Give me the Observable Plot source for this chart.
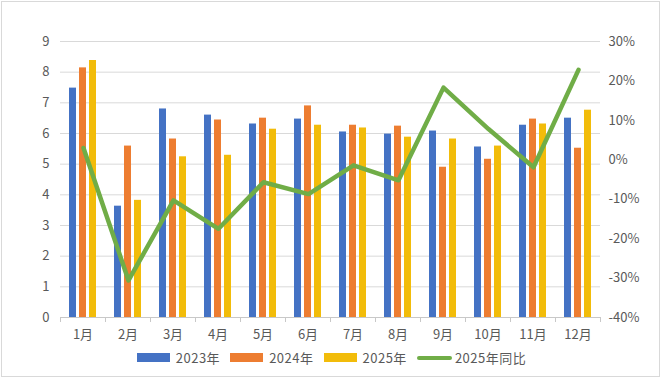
<!DOCTYPE html>
<html>
<head>
<meta charset="utf-8">
<script src="https://cdn.jsdelivr.net/npm/d3@7"></script>
<script src="https://cdn.jsdelivr.net/npm/@observablehq/plot@0.6"></script>
<style>
  html, body { margin: 0; padding: 0; background: #fff; }
  #wrap { position: relative; width: 663px; height: 380px; overflow: hidden; font-family: "Noto Sans CJK SC", "Noto Sans", sans-serif; }
  #border { position: absolute; left: 1px; top: 1px; width: 657px; height: 374px; border: 1px solid #d9d9d9; }
  .layer { position: absolute; left: 0; top: 0; }
  #legend { position: absolute; left: 0; top: 348px; width: 663px; display: flex; justify-content: center; align-items: center; font-size: 13px; color: #595959; letter-spacing: 0.5px; }
  .item { display: flex; align-items: center; margin: 0 5px; }
  .sw { width: 33px; height: 9px; margin-right: 6px; }
  .ln { width: 35px; height: 4px; border-radius: 2px; margin-right: 3px; }
</style>
</head>
<body>
<div id="wrap">
  <div id="border"></div>
  <div id="barsLayer" class="layer"></div>
  <div id="tickLayer" class="layer"></div>
  <div id="lineLayer" class="layer"></div>
  <div id="legend"></div>
</div>
<script>
const months = ["1月","2月","3月","4月","5月","6月","7月","8月","9月","10月","11月","12月"];
const seriesNames = ["2023年","2024年","2025年"];
const v2023 = [7.48,3.63,6.80,6.60,6.31,6.47,6.05,5.98,6.08,5.56,6.27,6.50];
const v2024 = [8.14,5.59,5.82,6.44,6.50,6.90,6.27,6.24,4.90,5.16,6.47,5.52];
const v2025 = [8.38,3.82,5.24,5.29,6.14,6.27,6.18,5.88,5.82,5.59,6.31,6.76];
const yoyName = "2025年同比";
const yoy = [0.030,-0.306,-0.103,-0.175,-0.057,-0.087,-0.014,-0.052,0.183,0.078,-0.019,0.228];
const leftTicks = [0,1,2,3,4,5,6,7,8,9];
const rightTicks = [-0.4,-0.3,-0.2,-0.1,0,0.1,0.2,0.3];
const colors = ["#4472C4","#ED7D31","#F2BC0A"];
const lineColor = "#70AD47";

const seriesValues = [v2023, v2024, v2025];
const barData = [];
months.forEach((m, i) => seriesNames.forEach((s, j) => barData.push({month: m, series: s, value: seriesValues[j][i]})));
const lineData = months.map((m, i) => ({month: m, yoy: yoy[i]}));

const W = 663, H = 345;
const common = {width: W, height: H, marginTop: 41, marginBottom: 28, marginLeft: 60, marginRight: 63};
const font = "Noto Sans CJK SC";

const bars = Plot.plot({
  ...common,
  style: {background: "transparent", fontFamily: font, color: "#595959", overflow: "visible"},
  fx: {domain: months, padding: 0, label: null},
  x: {domain: seriesNames, paddingInner: 0.3, paddingOuter: 0.9, axis: null},
  y: {domain: [0, 9], label: null},
  color: {domain: seriesNames, range: colors},
  marks: [
    Plot.gridY(leftTicks.filter(t => t > 0), {stroke: "#d9d9d9", strokeOpacity: 1}),
    Plot.barY(barData, {fx: "month", x: "series", y: "value", fill: "series"}),
    Plot.ruleY([0], {stroke: "#c8c8c8"}),
    Plot.axisY(leftTicks, {tickSize: 0, tickPadding: 11, fontSize: 13, fill: "#595959"}),
    Plot.axisFx({anchor: "bottom", tickSize: 0, tickPadding: 12, fontSize: 13, fill: "#595959", label: null})
  ]
});
document.getElementById("barsLayer").appendChild(bars);

// boundary tick marks along the category axis
const tickAxis = Plot.plot({
  ...common,
  style: {background: "transparent", overflow: "visible"},
  x: {domain: [0, months.length], label: null},
  y: {domain: [0, 9], axis: null},
  marks: [
    Plot.axisX(d3.range(months.length + 1), {tickSize: 5, tickFormat: () => "", stroke: "#c8c8c8", label: null})
  ]
});
document.getElementById("tickLayer").appendChild(tickAxis);

const line = Plot.plot({
  ...common,
  style: {background: "transparent", fontFamily: font, color: "#595959", overflow: "visible"},
  x: {type: "point", domain: months, padding: 0.5, axis: null, label: null},
  y: {domain: [-0.4, 0.3], label: null},
  marks: [
    Plot.lineY(lineData, {x: "month", y: "yoy", stroke: lineColor, strokeWidth: 4.5, strokeLinejoin: "round", strokeLinecap: "round"}),
    Plot.axisY(rightTicks, {anchor: "right", tickSize: 0, tickPadding: 8, fontSize: 13, fill: "#595959", tickFormat: d => Math.round(d * 100) + "%", label: null})
  ]
});
document.getElementById("lineLayer").appendChild(line);

const legend = document.getElementById("legend");
seriesNames.forEach((s, j) => {
  const it = document.createElement("div");
  it.className = "item";
  it.innerHTML = `<div class="sw" style="background:${colors[j]}"></div><span>${s}</span>`;
  legend.appendChild(it);
});
const li = document.createElement("div");
li.className = "item";
li.innerHTML = `<div class="ln" style="background:${lineColor}"></div><span>${yoyName}</span>`;
legend.appendChild(li);
</script>
</body>
</html>
